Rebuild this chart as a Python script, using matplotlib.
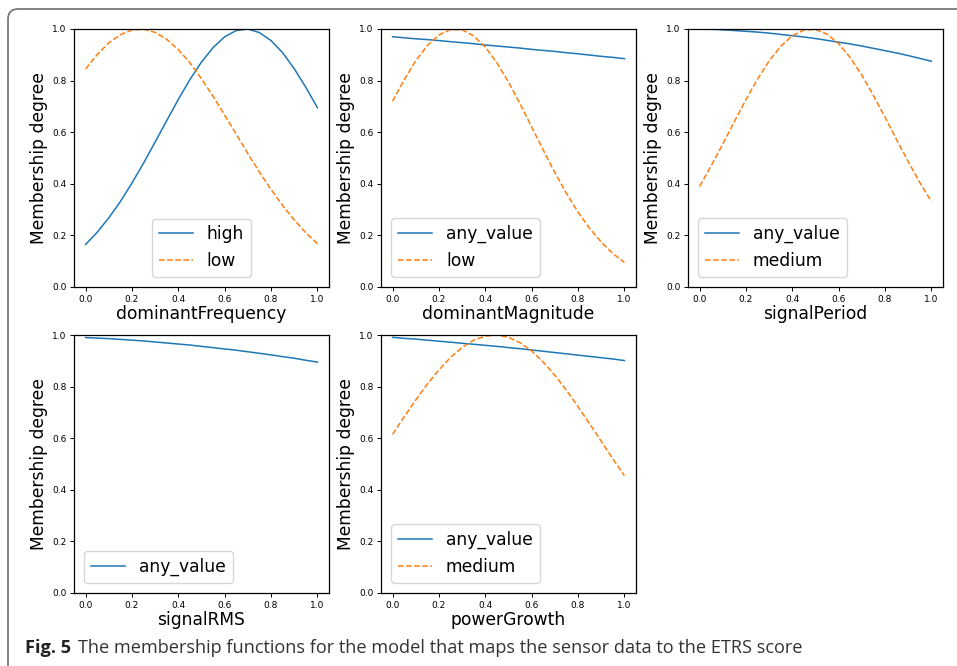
import matplotlib
matplotlib.use('Agg')
import matplotlib.pyplot as plt
from matplotlib.patches import FancyBboxPatch
from matplotlib.transforms import IdentityTransform

# ── Membership curves sampled on the normalised input range ──
x_grid = [0.00, 0.05, 0.10, 0.15, 0.20, 0.25, 0.30, 0.35, 0.40, 0.45, 0.50,
          0.55, 0.60, 0.65, 0.70, 0.75, 0.80, 0.85, 0.90, 0.95, 1.00]

freq_high = [0.165, 0.212, 0.268, 0.331, 0.403, 0.480, 0.562, 0.645, 0.727, 0.804, 0.872,
             0.928, 0.970, 0.994, 1.000, 0.986, 0.955, 0.908, 0.846, 0.774, 0.695]
freq_low = [0.845, 0.901, 0.946, 0.978, 0.996, 0.999, 0.987, 0.960, 0.920, 0.869, 0.807,
            0.739, 0.666, 0.592, 0.517, 0.445, 0.378, 0.316, 0.260, 0.210, 0.168]

mag_any = [0.970, 0.966, 0.962, 0.959, 0.955, 0.951, 0.947, 0.943, 0.938, 0.934, 0.930,
           0.926, 0.921, 0.917, 0.913, 0.908, 0.904, 0.899, 0.894, 0.890, 0.885]
mag_low = [0.720, 0.803, 0.877, 0.936, 0.977, 0.998, 0.997, 0.973, 0.930, 0.869, 0.794,
           0.710, 0.620, 0.530, 0.443, 0.363, 0.290, 0.227, 0.174, 0.130, 0.095]

period_any = [1.000, 0.999, 0.997, 0.994, 0.991, 0.988, 0.984, 0.979, 0.974, 0.969, 0.963,
              0.956, 0.949, 0.942, 0.934, 0.925, 0.916, 0.907, 0.897, 0.886, 0.875]
period_medium = [0.390, 0.470, 0.554, 0.641, 0.726, 0.806, 0.876, 0.933, 0.974, 0.996, 0.998,
                 0.980, 0.943, 0.889, 0.821, 0.742, 0.658, 0.571, 0.486, 0.405, 0.331]

rms_any = [0.990, 0.988, 0.986, 0.983, 0.980, 0.977, 0.973, 0.969, 0.965, 0.961, 0.956,
           0.951, 0.946, 0.941, 0.935, 0.929, 0.923, 0.916, 0.910, 0.902, 0.895]

growth_any = [0.991, 0.987, 0.984, 0.980, 0.976, 0.972, 0.968, 0.964, 0.960, 0.956, 0.951,
              0.947, 0.942, 0.937, 0.932, 0.927, 0.922, 0.917, 0.912, 0.907, 0.901]
growth_medium = [0.615, 0.683, 0.748, 0.810, 0.865, 0.913, 0.952, 0.980, 0.996, 1.000, 0.991,
                 0.970, 0.938, 0.895, 0.844, 0.786, 0.722, 0.656, 0.588, 0.520, 0.455]

panels = [
    ('dominantFrequency', [('high', freq_high), ('low', freq_low)], 'lower center'),
    ('dominantMagnitude', [('any_value', mag_any), ('low', mag_low)], 'lower left'),
    ('signalPeriod', [('any_value', period_any), ('medium', period_medium)], 'lower left'),
    ('signalRMS', [('any_value', rms_any)], 'lower left'),
    ('powerGrowth', [('any_value', growth_any), ('medium', growth_medium)], 'lower left'),
]

W, H = 957, 666
fig = plt.figure(figsize=(W / 100, H / 100), dpi=100)

# axes boxes in pixels: left, top (all share one size)
boxes = [(74, 29), (381, 29), (688, 29), (74, 335), (381, 335)]
AX_W, AX_H = 255, 258

styles = ['-', '--']
colors = ['#1f77b4', '#ff7f0e']

for (xlabel, series, loc), (left, top) in zip(panels, boxes):
    ax = fig.add_axes([left / W, (H - top - AX_H) / H, AX_W / W, AX_H / H])
    for i, (name, vals) in enumerate(series):
        ax.plot(x_grid, vals, styles[i], color=colors[i], lw=1.1, label=name)
    ax.set_xlim(-0.05, 1.05)
    ax.set_ylim(0, 1)
    ax.set_xticks([0, 0.2, 0.4, 0.6, 0.8, 1.0])
    ax.set_yticks([0, 0.2, 0.4, 0.6, 0.8, 1.0])
    ax.tick_params(labelsize=6.5, length=3, width=0.7, pad=2.5)
    for sp in ax.spines.values():
        sp.set_linewidth(0.9)
    ax.set_xlabel(xlabel, fontsize=12.3, labelpad=1)
    ax.set_ylabel('Membership degree', fontsize=12.3, labelpad=3)
    ax.legend(loc=loc, fontsize=12.3, handlelength=2.0, borderaxespad=0.6)

# rounded frame around the figure panel
frame = FancyBboxPatch((8, -40), 1100, H - 9 + 40,
                       boxstyle='round,pad=0,rounding_size=10',
                       transform=IdentityTransform(), fill=False,
                       edgecolor='#7a7a7a', linewidth=1.3)
fig.patches.append(frame)

# caption: bold figure number followed by the description
cap_y = 1 - 648 / H
t1 = fig.text(25 / W, cap_y, 'Fig. 5', fontsize=13.1, fontweight='bold',
              family='Open Sans', color='#222222', va='center')
renderer = fig.canvas.get_renderer()
bb = t1.get_window_extent(renderer)
fig.text((bb.x1 + 7) / W, cap_y,
         'The membership functions for the model that maps the sensor data to the ETRS score',
         fontsize=13.1, family='Open Sans', color='#333333', va='center')

fig.savefig('out.png', dpi=100)
